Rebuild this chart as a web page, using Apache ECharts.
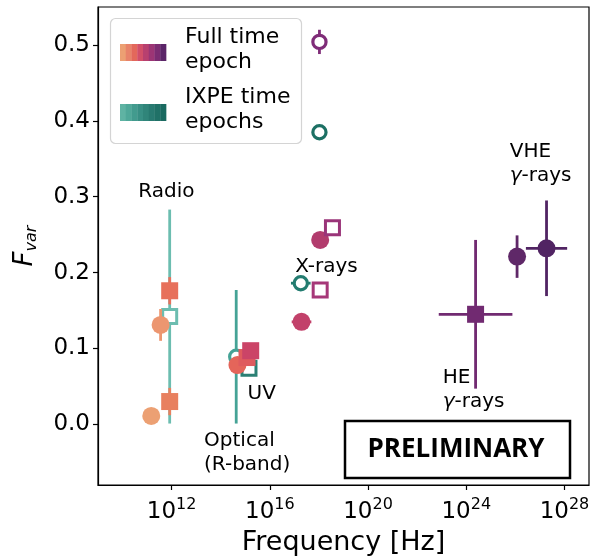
<!DOCTYPE html>
<html><head><meta charset="utf-8">
<script src="https://cdn.jsdelivr.net/npm/echarts@6/dist/echarts.min.js"></script>
<style>html,body{margin:0;padding:0;background:#fff}#c{width:592px;height:559px}</style>
</head><body><div id="c"></div>
<script>
// ---------- DATA (x = log10 frequency [Hz], y = Fvar) ----------
// IXPE time epochs (open markers, teal)
const ixpeLogFreq = [11.92, 14.63, 15.15, 17.26, 18.02];
const ixpeFvar    = [0.142, 0.089, 0.074, 0.186, 0.385];
const ixpeXErr    = [0, 0, 0, 0.4, 0];
const ixpeYErr    = [0.141, 0.088, 0, 0, 0];

// Full time epoch (filled markers)
const fullLogFreq = [11.17, 11.55, 11.92, 11.92, 14.68, 15.07, 15.22, 17.29, 18.05, 24.38, 26.07, 27.27];
const fullFvar    = [0.011, 0.131, 0.176, 0.030, 0.078, 0.088, 0.097, 0.135, 0.243, 0.145, 0.221, 0.232];
const fullXErr    = [0, 0, 0, 0, 0, 0, 0, 0.4, 0, 1.5, 0, 0.84];
const fullYErr    = [0, 0.021, 0.018, 0.018, 0, 0, 0, 0, 0, 0.098, 0.028, 0.063];

// Full time epoch (open markers)
const fullOpenLogFreq = [18.05, 18.55, 18.02];
const fullOpenFvar    = [0.177, 0.259, 0.504];
const fullOpenXErr    = [0, 0, 0];
const fullOpenYErr    = [0, 0, 0.016];

// Band annotations
const annotLogFreq = [10.64, 13.32, 15.09, 17.03, 23.04, 25.77];
const annotFvar    = [0.307, -0.037, 0.040, 0.208, 0.045, 0.344];
const annotText    = ['Radio', 'Optical\n(R-band)', 'UV', 'X-rays', 'HE\n{g|γ}-rays', 'VHE\n{g|γ}-rays'];

// Axis ticks
const xTickExp = [12, 16, 20, 24, 28];
const yTicks   = [0.0, 0.1, 0.2, 0.3, 0.4, 0.5];

// Legend
const legendLabels = ['Full time\nepoch', 'IXPE time\nepochs'];

// ---------- STYLES ----------
const ixpeColors = ['#6cbdb0', '#45a396', '#2b8074', '#237c70', '#1c7064'];
const ixpeShapes = ['rect', 'circle', 'rect', 'circle', 'circle'];
const fullColors = ['#eca073', '#ec9670', '#e7705b', '#e8805f', '#e4655a', '#df5b5e', '#cb4467',
                    '#c2416a', '#b23c6d', '#712a71', '#5f2868', '#512463'];
const fullShapes = ['circle', 'circle', 'rect', 'rect', 'circle', 'rect', 'rect', 'circle', 'circle', 'rect', 'circle', 'circle'];
const fullOpenColors = ['#a63778', '#9a3479', '#7f2c78'];
const fullOpenShapes = ['rect', 'rect', 'circle'];
const flarePalette = ['#eca073', '#e8836a', '#e3685b', '#d24f69', '#b8406f', '#9c3575', '#7c2c72', '#5b2568'];
const crestPalette = ['#5fb3a3', '#4fa899', '#429b8e', '#388f84', '#30857a', '#287a71', '#207167', '#1a6a60'];

const FONT = '"DejaVu Sans", sans-serif';

function pointSeries(lf, fv, xe, ye, colors, shapes, open, z) {
  return {
    type: 'custom', coordinateSystem: 'cartesian2d', z: z, clip: false,
    encode: { x: 0, y: 1 },
    data: lf.map((x, i) => [x, fv[i], xe[i], ye[i], i]),
    renderItem: function (params, api) {
      const x = api.value(0), y = api.value(1), dx = api.value(2), dy = api.value(3), i = api.value(4);
      const col = colors[i], shp = shapes[i];
      const c = api.coord([x, y]);
      const ch = [];
      if (dx > 0) {
        const a = api.coord([x - dx, y]), b = api.coord([x + dx, y]);
        ch.push({ type: 'line', shape: { x1: a[0], y1: a[1], x2: b[0], y2: b[1] }, style: { stroke: col, lineWidth: 2.8 } });
      }
      if (dy > 0) {
        const a = api.coord([x, y - dy]), b = api.coord([x, y + dy]);
        ch.push({ type: 'line', shape: { x1: a[0], y1: a[1], x2: b[0], y2: b[1] }, style: { stroke: col, lineWidth: 2.8 } });
      }
      if (open) {
        if (shp === 'circle') ch.push({ type: 'circle', shape: { cx: c[0], cy: c[1], r: 6.6 }, style: { fill: '#fff', stroke: col, lineWidth: 3.2 } });
        else ch.push({ type: 'rect', shape: { x: c[0] - 7, y: c[1] - 7, width: 14, height: 14 }, style: { fill: '#fff', stroke: col, lineWidth: 3 } });
      } else {
        if (shp === 'circle') ch.push({ type: 'circle', shape: { cx: c[0], cy: c[1], r: 9 }, style: { fill: col } });
        else ch.push({ type: 'rect', shape: { x: c[0] - 8.5, y: c[1] - 8.5, width: 17, height: 17 }, style: { fill: col } });
      }
      return { type: 'group', children: ch };
    }
  };
}

const annotSeries = {
  type: 'custom', coordinateSystem: 'cartesian2d', z: 5, clip: false,
  encode: { x: 0, y: 1 },
  data: annotLogFreq.map((x, i) => [x, annotFvar[i], i]),
  renderItem: function (params, api) {
    const c = api.coord([api.value(0), api.value(1)]);
    const i = api.value(2);
    return {
      type: 'text', x: c[0], y: c[1],
      style: {
        text: annotText[i], align: 'left', verticalAlign: 'middle',
        font: '20px ' + FONT, fill: '#000', lineHeight: 24,
        rich: { g: { fontStyle: 'italic', fontSize: 20, fontFamily: 'DejaVu Sans', lineHeight: 24 } }
      }
    };
  }
};

const graphics = [];
// legend box
graphics.push({ type: 'rect', z: 10, shape: { x: 110.5, y: 18.5, width: 191, height: 125, r: 5 },
  style: { fill: 'rgba(255,255,255,0.85)', stroke: '#d4d4d4', lineWidth: 1.2 } });
[flarePalette, crestPalette].forEach((pal, k) => {
  const y0 = k === 0 ? 44 : 104;
  pal.forEach((col, j) => {
    graphics.push({ type: 'rect', z: 11, shape: { x: 120 + j * 5.75, y: y0, width: 6.1, height: 17 }, style: { fill: col } });
  });
  graphics.push({ type: 'text', z: 11, x: 185, y: k === 0 ? 49.5 : 109.5,
    style: { text: legendLabels[k], font: '22px ' + FONT, fill: '#000', align: 'left', verticalAlign: 'middle', lineHeight: 25 } });
});
// PRELIMINARY box
graphics.push({ type: 'rect', z: 10, shape: { x: 345, y: 421, width: 225, height: 57 },
  style: { fill: '#fff', stroke: '#000', lineWidth: 2.5 } });
graphics.push({ type: 'text', z: 11, x: 456, y: 450,
  style: { text: 'PRELIMINARY', font: 'bold 26px "Open Sans", sans-serif', fill: '#000', align: 'center', verticalAlign: 'middle' } });

const option = {
  animation: false,
  backgroundColor: '#fff',
  grid: { left: 98, right: 3, top: 7, bottom: 74, containLabel: false, outerBoundsMode: 'none',
          show: true, borderColor: '#000', borderWidth: 1.2, backgroundColor: 'transparent' },
  xAxis: {
    type: 'value', min: 9, max: 29,
    name: 'Frequency [Hz]', nameLocation: 'middle', nameGap: 44,
    nameTextStyle: { fontSize: 27, fontFamily: 'DejaVu Sans', color: '#000' },
    axisLine: { show: true, onZero: false, lineStyle: { color: '#000', width: 1.2 } },
    axisTick: { show: true, length: 5, customValues: xTickExp, lineStyle: { color: '#000', width: 1.2 } },
    splitLine: { show: false },
    axisLabel: {
      customValues: xTickExp, margin: 12, color: '#000',
      formatter: v => '{b|10}{s|' + v + '}',
      rich: {
        b: { fontSize: 23, fontFamily: 'DejaVu Sans', color: '#000', lineHeight: 30 },
        s: { fontSize: 16, fontFamily: 'DejaVu Sans', color: '#000', lineHeight: 16, verticalAlign: 'top' }
      }
    }
  },
  yAxis: {
    type: 'value', min: -0.08, max: 0.55,
    name: '{f|F}{s|var}', nameLocation: 'middle', nameGap: 58, nameRotate: 90,
    nameTextStyle: {
      rich: {
        f: { fontSize: 26, fontStyle: 'italic', fontFamily: 'DejaVu Sans', color: '#000', lineHeight: 30 },
        s: { fontSize: 16, fontStyle: 'italic', fontFamily: 'DejaVu Sans', color: '#000', lineHeight: 14, verticalAlign: 'bottom' }
      }
    },
    axisLine: { show: true, onZero: false, lineStyle: { color: '#000', width: 1.2 } },
    axisTick: { show: true, length: 5, customValues: yTicks, lineStyle: { color: '#000', width: 1.2 } },
    splitLine: { show: false },
    axisLabel: { customValues: yTicks, margin: 8, color: '#000', fontSize: 23, fontFamily: 'DejaVu Sans',
                 formatter: v => v.toFixed(1) }
  },
  series: [
    pointSeries(ixpeLogFreq, ixpeFvar, ixpeXErr, ixpeYErr, ixpeColors, ixpeShapes, true, 2),
    pointSeries(fullLogFreq, fullFvar, fullXErr, fullYErr, fullColors, fullShapes, false, 3),
    pointSeries(fullOpenLogFreq, fullOpenFvar, fullOpenXErr, fullOpenYErr, fullOpenColors, fullOpenShapes, true, 4),
    annotSeries
  ],
  graphic: graphics
};

const chart = echarts.init(document.getElementById('c'), null, { renderer: 'canvas' });
chart.setOption(option);
</script></body></html>
